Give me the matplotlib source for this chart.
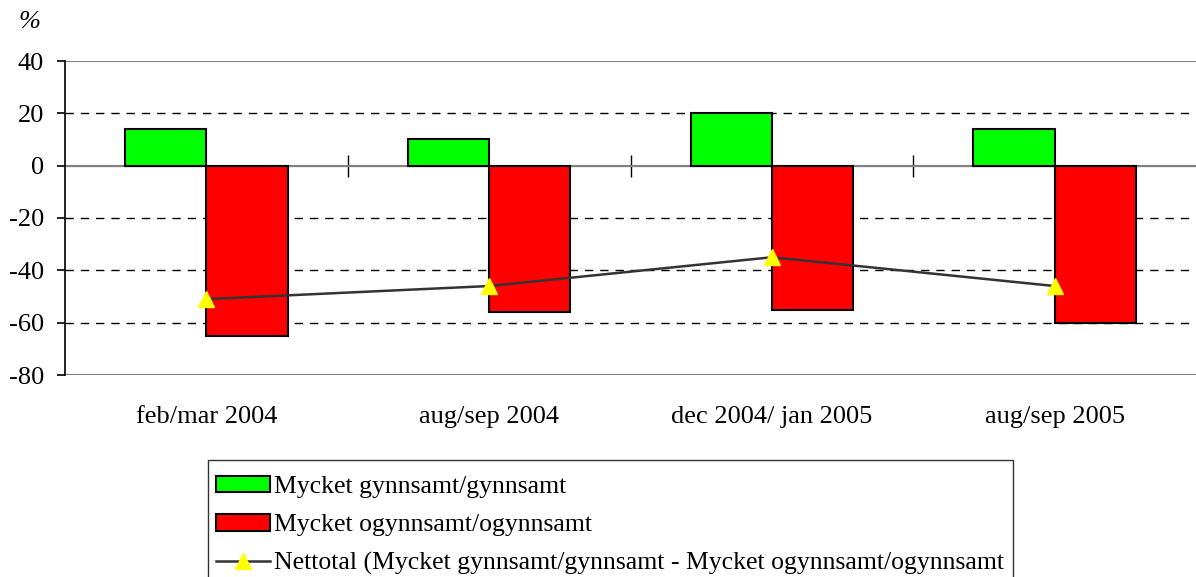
import numpy as np
import matplotlib
matplotlib.use('Agg')
import matplotlib.pyplot as plt
from matplotlib.patches import Patch, Rectangle
from matplotlib.lines import Line2D

plt.rcParams['font.family'] = ['Liberation Serif', 'DejaVu Serif']
plt.rcParams['axes.unicode_minus'] = False

# 数据
categories = ['feb/mar 2004', 'aug/sep 2004', 'dec 2004/ jan 2005', 'aug/sep 2005']
gynnsamt = [14, 10, 20, 14]
ogynnsamt = [-65, -56, -55, -60]
nettotal = [-51, -46, -35, -46]
labels = ['Mycket gynnsamt/gynnsamt',
          'Mycket ogynnsamt/ogynnsamt',
          'Nettotal (Mycket gynnsamt/gynnsamt - Mycket ogynnsamt/ogynnsamt']

W, H = 1196, 577
fig = plt.figure(figsize=(W / 100, H / 100), dpi=100)
ax = fig.add_axes([65 / W, 1 - 375 / H, (W - 65) / W, (375 - 61) / H])

x = np.arange(len(categories))
bw = 0.287
ax.bar(x - bw / 2, gynnsamt, bw, color='#00ff00', edgecolor='black', linewidth=1.5, zorder=3)
ax.bar(x + bw / 2, ogynnsamt, bw, color='#ff0000', edgecolor='black', linewidth=1.5, zorder=3)
ax.plot(x, nettotal, color='#333333', linewidth=1.8, marker='^', markersize=11,
        markerfacecolor='#ffff00', markeredgecolor='#ffff00', zorder=4)

ax.set_xlim(-0.5, len(categories) - 0.5)
ax.set_ylim(-80, 40)
ax.set_yticks(np.arange(-80, 41, 20))
ax.tick_params(axis='y', direction='out', length=6, width=1.2, labelsize=19, pad=9)

# 网格线：虚线，40/0/-80 为实线
for yv in [20, -20, -40, -60]:
    ax.axhline(yv, color='black', linestyle=(0, (6, 5)), linewidth=1, zorder=1)
for yv in [40, 0, -80]:
    ax.axhline(yv, color='#808080', linewidth=1.5, zorder=2)

ax.set_xticks(x)
ax.set_xticklabels(categories, fontsize=19)
ax.tick_params(axis='x', length=0, pad=22)

for s in ['top', 'right', 'bottom']:
    ax.spines[s].set_visible(False)
ax.spines['left'].set_linewidth(1.2)

# 零线上的分类刻度
sec = ax.secondary_xaxis(80 / 120)
sec.set_xticks(x[:-1] + 0.5)
sec.set_xticklabels([])
sec.tick_params(direction='inout', length=16, width=1)
sec.spines['bottom'].set_visible(False)

fig.text(18 / W, 1 - 22 / H, '%', fontsize=19, style='italic', va='center')

# 图例（边框单独画，底部被裁掉）
handles = [Patch(facecolor='#00ff00', edgecolor='black', linewidth=1.5),
           Patch(facecolor='#ff0000', edgecolor='black', linewidth=1.5),
           Line2D([], [], color='#333333', linewidth=1.8, marker='^', markersize=11,
                  markerfacecolor='#ffff00', markeredgecolor='#ffff00')]
leg = fig.legend(handles, labels, loc='upper left', bbox_to_anchor=(208 / W, 1 - 468 / H),
                 fontsize=18.5, frameon=False,
                 handlelength=2.1, handleheight=0.62, handletextpad=0.15,
                 labelspacing=0.62, borderpad=0.3, borderaxespad=0)
fig.patches.append(Rectangle((208 / W, -0.05), (1013 - 208) / W, 1 - 460 / H + 0.05,
                             transform=fig.transFigure, facecolor='none',
                             edgecolor='#333333', linewidth=1))

fig.savefig('out.png', dpi=100)
